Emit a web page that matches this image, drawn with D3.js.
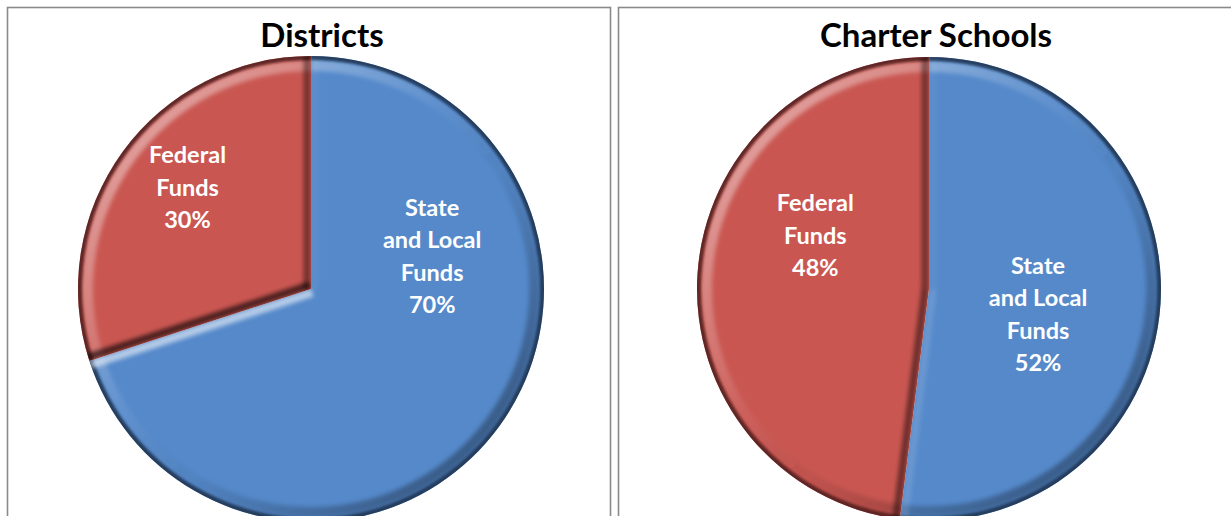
<!DOCTYPE html>
<html>
<head>
<meta charset="utf-8">
<script src="https://cdn.jsdelivr.net/npm/d3@7"></script>
<style>
  html, body { margin: 0; padding: 0; background: #fff; }
  svg { display: block; }
</style>
</head>
<body>
<svg id="chart" width="1231" height="516"></svg>
<script>
// ---- data ----
const titles = ["Districts", "Charter Schools"];
const categories = ["State and Local Funds", "Federal Funds"];
const labelLines = [["State", "and Local", "Funds"], ["Federal", "Funds"]];
const districtsValues = [70, 30];
const charterValues = [52, 48];

// ---- layout / style ----
const W = 1231, H = 516;
const colors = ["#5589CA", "#C95651"];
const rimDark = ["#16263c", "#3c1412"];
const panels = [
  { x: 7.5, y: 7.5, w: 603, h: 560, cx: 311, cy: 289, r: 233, titleX: 322,
    labelPos: [[0.52, -0.105], [-0.53, -0.40]] },
  { x: 618.5, y: 7.5, w: 640, h: 560, cx: 929, cy: 289, r: 232, titleX: 936,
    labelPos: [[0.47, 0.145], [-0.49, -0.195]] }
];
const seriesValues = [districtsValues, charterValues];
const lineH = 32.5;
const font = "Lato, 'Open Sans', sans-serif";

const svg = d3.select("#chart");
svg.append("rect").attr("width", W).attr("height", H).attr("fill", "#fff");
const defs = svg.append("defs");

function makeBlur(id, sd) {
  defs.append("filter").attr("id", id)
    .attr("filterUnits", "userSpaceOnUse")
    .attr("x", -2000).attr("y", -2000).attr("width", 5000).attr("height", 5000)
    .append("feGaussianBlur").attr("stdDeviation", sd);
}
makeBlur("blur3", 2.2);
makeBlur("blur1", 1.2);

const pie = d3.pie().sort(null).startAngle(0).endAngle(2 * Math.PI);
const L = [-0.5, -0.866];

panels.forEach((p, pi) => {
  // panel frame
  svg.append("rect")
    .attr("x", p.x).attr("y", p.y).attr("width", p.w).attr("height", p.h)
    .attr("fill", "none").attr("stroke", "#8a8a8a").attr("stroke-width", 1.6);

  // title
  svg.append("text")
    .attr("x", p.titleX).attr("y", 47)
    .attr("text-anchor", "middle")
    .attr("font-family", font).attr("font-weight", 700).attr("font-size", 33)
    .attr("fill", "#000")
    .text(titles[pi]);

  const values = seriesValues[pi];
  const arcs = pie(values);
  const arc = d3.arc().innerRadius(0).outerRadius(p.r);
  const g = svg.append("g").attr("transform", `translate(${p.cx},${p.cy})`);

  // linear gradient for rim light (top-left light, bottom-right dark)
  const lgId = `rimLight${pi}`;
  const lg = defs.append("linearGradient").attr("id", lgId)
    .attr("gradientUnits", "userSpaceOnUse")
    .attr("x1", -p.r * 0.75).attr("y1", -p.r * 0.75).attr("x2", p.r * 0.75).attr("y2", p.r * 0.75);
  lg.append("stop").attr("offset", 0).attr("stop-color", "#fff").attr("stop-opacity", 0.45);
  lg.append("stop").attr("offset", 0.42).attr("stop-color", "#fff").attr("stop-opacity", 0.06);
  lg.append("stop").attr("offset", 0.6).attr("stop-color", "#000").attr("stop-opacity", 0.04);
  lg.append("stop").attr("offset", 1).attr("stop-color", "#000").attr("stop-opacity", 0.35);

  arcs.forEach((a, i) => {
    const clipId = `clip${pi}_${i}`;
    defs.append("clipPath").attr("id", clipId)
      .append("path").attr("transform", `translate(${p.cx},${p.cy})`).attr("d", arc(a));

    // base slice
    g.append("path").attr("d", arc(a)).attr("fill", colors[i]);

    const fx = svg.append("g").attr("clip-path", `url(#${clipId})`)
      .append("g").attr("transform", `translate(${p.cx},${p.cy})`);

    // rim highlight / shadow band
    const bandArc = d3.arc().innerRadius(p.r - 15).outerRadius(p.r - 4)
      .startAngle(a.startAngle).endAngle(a.endAngle);
    fx.append("path").attr("d", bandArc()).attr("fill", `url(#${lgId})`).attr("filter", "url(#blur3)");

    // dark outer edge
    const edgeArc = d3.arc().innerRadius(p.r - 4).outerRadius(p.r + 3)
      .startAngle(a.startAngle).endAngle(a.endAngle);
    fx.append("path").attr("d", edgeArc()).attr("fill", rimDark[i]).attr("opacity", 0.75).attr("filter", "url(#blur1)");

    // radial edges: highlight or shadow depending on facing direction
    [[a.startAngle, -1], [a.endAngle, 1]].forEach(([ang, side]) => {
      const ux = Math.sin(ang), uy = -Math.cos(ang);
      const nx = side * Math.cos(ang), ny = side * Math.sin(ang);
      const dot = nx * L[0] + ny * L[1];
      const off = 4;
      const ox = -nx * off, oy = -ny * off;
      const light = dot > 0;
      const op = light ? 0.6 * Math.pow(Math.max(0, (dot - 0.4) / 0.6), 1.5)
                       : 0.2 + 0.45 * (-dot);
      if (op < 0.02) return;
      fx.append("line")
        .attr("x1", ox).attr("y1", oy)
        .attr("x2", ux * p.r + ox).attr("y2", uy * p.r + oy)
        .attr("stroke", light ? "#ffffff" : "#000000")
        .attr("stroke-width", light ? 8 : 7)
        .attr("stroke-opacity", Math.min(op, 0.7))
        .attr("filter", "url(#blur3)");
    });
  });

  // labels
  const total = d3.sum(values);
  arcs.forEach((a, i) => {
    const lines = labelLines[i].concat([`${Math.round(a.data / total * 100)}%`]);
    const [fxr, fyr] = p.labelPos[i];
    const bx = p.cx + fxr * p.r, by = p.cy + fyr * p.r;
    const t = svg.append("text")
      .attr("text-anchor", "middle")
      .attr("font-family", font).attr("font-weight", 700).attr("font-size", 23.5)
      .attr("fill", "#fff");
    lines.forEach((ln, k) => {
      t.append("tspan").attr("x", bx).attr("y", by + (k - (lines.length - 1) / 2) * lineH).text(ln);
    });
  });
});
</script>
</body>
</html>
